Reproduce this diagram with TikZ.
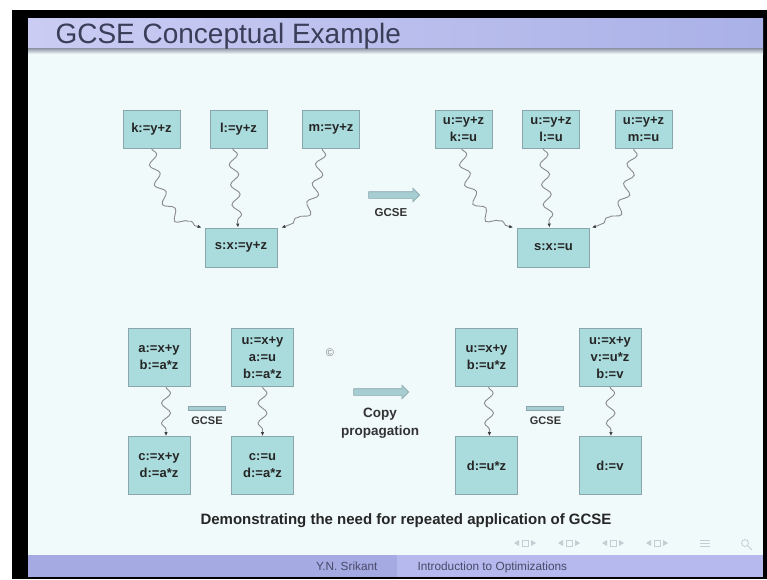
\documentclass[tikz,border=0pt]{standalone}
\usepackage{fontspec}
\setmainfont{Liberation Sans}
\usetikzlibrary{arrows.meta,decorations.pathmorphing,shapes.arrows}
\definecolor{bodybg}{RGB}{240,250,251}
\definecolor{boxfill}{RGB}{170,220,221}
\definecolor{boxline}{RGB}{138,166,172}
\definecolor{barleft}{RGB}{202,204,243}
\definecolor{barright}{RGB}{170,177,231}
\definecolor{titletext}{RGB}{58,62,88}
\definecolor{footleft}{RGB}{166,170,227}
\definecolor{footright}{RGB}{181,185,237}
\definecolor{foottext}{RGB}{72,74,104}
\definecolor{wavegray}{RGB}{138,138,138}
\definecolor{arrfill}{RGB}{166,206,210}
\definecolor{navgray}{RGB}{196,205,210}
\begin{document}
\begin{tikzpicture}[x=1pt,y=-1pt,
  cbox/.style={draw=boxline,fill=boxfill,line width=0.8pt,inner sep=0pt,align=center,
    font=\fontsize{13}{17}\selectfont\bfseries,text=black!85},
  topbox/.style={cbox,minimum width=57pt,minimum height=38pt},
  sbox/.style={cbox,minimum width=72pt,minimum height=39pt},
  lowbox/.style={cbox,minimum width=62pt,minimum height=58pt},
  squig/.style={draw=wavegray,line width=0.9pt,decorate,
    decoration={snake,amplitude=4.5pt,segment length=20pt,post length=4pt},
    -{Latex[length=4pt,width=3.5pt,color=black!75]}},
  fatarrow/.style={single arrow,draw=boxline,fill=arrfill,line width=0.6pt,
    inner xsep=0pt,inner ysep=3pt,single arrow head extend=3.5pt},
  gbar/.style={draw=boxline,fill=arrfill,line width=0.4pt,minimum width=37pt,
    minimum height=3.5pt,inner sep=0pt},
  lbl/.style={font=\fontsize{11.5}{13}\selectfont\bfseries,text=black!80}]
\useasboundingbox (0,0) rectangle (767,579);
\fill[white] (0,0) rectangle (767,579);
\fill[black] (12,10) rectangle (767,579);
\fill[bodybg] (28,18) rectangle (763,577);
\shade[left color=barleft,right color=barright] (28,18) rectangle (763,48);
\shade[top color={rgb,255:red,140;green,146;blue,162},bottom color=bodybg] (28,48) rectangle (763,54);
\fill[footleft] (28,555) rectangle (397,577);
\fill[footright] (397,555) rectangle (763,577);
\node[anchor=base west,font=\fontsize{28}{30}\selectfont,text=titletext] (ttl) at (52,43) {GCSE Conceptual Example};

\node[topbox] (k) at (151.5,129) {k:=y+z};
\node[topbox] (l) at (238.5,129) {l:=y+z};
\node[topbox] (m) at (331,129) {m:=y+z};
\node[sbox] (s1) at (241,247.5) {s:x:=y+z};
\node[topbox] (uk) at (463.5,129) {u:=y+z\\k:=u};
\node[topbox] (ul) at (551,129) {u:=y+z\\l:=u};
\node[topbox] (um) at (643.5,129) {u:=y+z\\m:=u};
\node[sbox] (s2) at (553.5,247.5) {s:x:=u};
\draw[squig] (k.south) .. controls +(5,40) and +(-30,-8) .. ([xshift=-3pt]s1.north west);
\draw[squig] ([xshift=-6pt]l.south) -- ([xshift=-3pt]s1.north);
\draw[squig] ([xshift=-9pt]m.south) .. controls +(-5,40) and +(30,-8) .. ([xshift=4pt]s1.north east);
\draw[squig] ([xshift=-2pt]uk.south) .. controls +(5,40) and +(-30,-8) .. ([xshift=-4pt]s2.north west);
\draw[squig] ([xshift=-8pt]ul.south) -- ([xshift=-4pt]s2.north);
\draw[squig] ([xshift=-10pt]um.south) .. controls +(-5,40) and +(30,-8) .. ([xshift=2pt]s2.north east);
\node[fatarrow,minimum height=51pt] (ga) at (392.5,195) {};
\node[lbl] (gl) at (391,213) {GCSE};

\node[lowbox] (a1) at (159,357.5) {a:=x+y\\b:=a*z};
\node[lowbox] (a2) at (262.5,357.5) {u:=x+y\\a:=u\\b:=a*z};
\node[lowbox] (c1) at (159,465.5) {c:=x+y\\d:=a*z};
\node[lowbox] (c2) at (262.5,465.5) {c:=u\\d:=a*z};
\node[lowbox] (b1) at (486.5,357.5) {u:=x+y\\b:=u*z};
\node[lowbox] (b2) at (610,357.5) {u:=x+y\\v:=u*z\\b:=v};
\node[lowbox] (d1) at (486.5,465.5) {d:=u*z};
\node[lowbox] (d2) at (610,465.5) {d:=v};
\draw[squig] ([xshift=7pt]a1.south) -- ([xshift=7pt]c1.north);
\draw[squig] (a2.south) -- (c2.north);
\draw[squig] ([xshift=2pt]b1.south) -- ([xshift=3pt]d1.north);
\draw[squig] (b2.south) -- ([xshift=1pt]d2.north);
\node[gbar] (gb1) at (206.5,408) {};
\node[lbl,font=\fontsize{11}{13}\selectfont\bfseries] (gbl1) at (207,421) {GCSE};
\node[gbar] (gb2) at (545,408) {};
\node[lbl,font=\fontsize{11}{13}\selectfont\bfseries] (gbl2) at (545.5,421) {GCSE};
\node[text=black!50,font=\fontsize{11}{13}\selectfont] (cr) at (330,353) {\textcopyright};
\node[fatarrow,minimum height=55pt] (cpa) at (379.5,392) {};
\node[lbl,font=\fontsize{13.5}{18}\selectfont\bfseries,align=center,anchor=north] (cpl) at (380,405) {Copy\\propagation};

\node[font=\fontsize{15}{18}\selectfont\bfseries,text=black!85] (cap) at (406,521) {Demonstrating the need for repeated application of GCSE};

\foreach \nx in {522,566,610,654}{
  \fill[navgray] (\nx-8,543) -- (\nx-3,540) -- (\nx-3,546) -- cycle;
  \draw[navgray,line width=0.7pt] (\nx,540) rectangle (\nx+6,546);
  \fill[navgray] (\nx+14,543) -- (\nx+9,540) -- (\nx+9,546) -- cycle;
}
\draw[navgray,line width=0.7pt] (700,540) -- (710,540) (700,543) -- (710,543) (700,546) -- (710,546);
\draw[navgray,line width=0.8pt] (745,543) circle (3.5);
\draw[navgray,line width=0.8pt] (748,546) -- (752,550);
\node[anchor=base east,font=\fontsize{11.8}{13}\selectfont,text=foottext] (auth) at (381,570) {Y.N. Srikant};
\node[anchor=base west,font=\fontsize{11.8}{13}\selectfont,text=foottext] (ftl) at (414,570) {Introduction to Optimizations};
\end{tikzpicture}
\end{document}
